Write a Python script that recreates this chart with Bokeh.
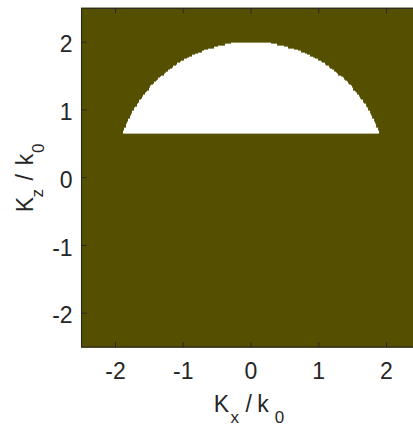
import numpy as np
from bokeh.plotting import figure
from bokeh.models import Range1d, LinearColorMapper
from bokeh.core.properties import value
from bokeh.embed import file_html
from bokeh.resources import INLINE

# Wave-vector plane sampled on a regular grid (units of k0)
grid_step = 0.02
kx_min, kx_max = -2.5, 2.5
kz_min, kz_max = -2.5, 2.5
radius = 2.0        # |K| / k0 limit of the allowed region
kz_cut = 0.65       # lower Kz / k0 bound of the allowed region

x_ticks = [-2, -1, 0, 1, 2]
y_ticks = [-2, -1, 0, 1, 2]
x_tick_labels = ["-2", "-1", "0", "1", "2"]
y_tick_labels = ["-2", "-1", "0", "1", "2"]

olive = "#545000"
ink = "#262626"
font = "Liberation Sans"
big_px, sub_px = 23, 17

kx = np.arange(kx_min, kx_max + grid_step / 2, grid_step)
kz = np.arange(kz_min, kz_max + grid_step / 2, grid_step)
KX, KZ = np.meshgrid(kx, kz)
allowed = ((KX ** 2 + KZ ** 2 <= radius ** 2) & (KZ >= kz_cut)).astype(float)

# Canvas geometry: the plot frame spans the whole page and the axes are
# drawn as glyphs, so the page pixel <-> data mapping is fixed here.
W, H = 413, 426
x0_px, y0_px = 250.5, 177.2     # page pixel of the data origin
scale = 67.75                   # pixels per unit of k0


def X(px):
    return (px - x0_px) / scale


def Y(py):
    return (y0_px - py) / scale


def L(n_px):
    return n_px / scale


p = figure(width=W, height=H, x_range=Range1d(X(0), X(W)),
           y_range=Range1d(Y(H), Y(0)),
           output_backend="svg", toolbar_location=None,
           min_border=0, x_axis_location=None, y_axis_location=None)
p.outline_line_color = None
p.grid.visible = False
p.background_fill_color = "white"
p.border_fill_color = "white"

mapper = LinearColorMapper(palette=[olive, "#ffffff"], low=0, high=1)
p.image(image=[allowed], x=kx_min - grid_step / 2, y=kz_min - grid_step / 2,
        dw=kx_max - kx_min + grid_step, dh=kz_max - kz_min + grid_step,
        color_mapper=mapper)

# Axes box: left, bottom and top edges
p.segment(x0=[kx_min, kx_min, kx_min], y0=[kz_min, kz_min, kz_max],
          x1=[kx_min, kx_max, kx_max], y1=[kz_max, kz_min, kz_max],
          line_color=ink, line_width=1)

tick_len = L(5)
xt = np.array(x_ticks, dtype=float)
yt = np.array(y_ticks, dtype=float)
# inward ticks on bottom, top and left edges
p.segment(x0=xt, y0=np.full_like(xt, kz_min), x1=xt,
          y1=np.full_like(xt, kz_min + tick_len), line_color=ink)
p.segment(x0=xt, y0=np.full_like(xt, kz_max), x1=xt,
          y1=np.full_like(xt, kz_max - tick_len), line_color=ink)
p.segment(x0=np.full_like(yt, kx_min), y0=yt, x1=np.full_like(yt, kx_min + tick_len),
          y1=yt, line_color=ink)

# tick labels, anchored at their vertical middle
p.text(x=xt, y=np.full_like(xt, kz_min - L(23.4)), text=x_tick_labels,
       text_font=value(font), text_font_size=f"{big_px}px", text_color=ink,
       text_align="center", text_baseline="middle")
p.text(x=np.full_like(yt, kx_min - L(9)), y=yt - L(1.6), text=y_tick_labels,
       text_font=value(font), text_font_size=f"{big_px}px", text_color=ink,
       text_align="right", text_baseline="middle")


def piece(text, px, py, size, angle=0.0):
    """Place a title fragment whose baseline passes through (px, py)."""
    shift = 0.35 * size
    if angle:
        px -= shift
    else:
        py -= shift
    p.text(x=[X(px)], y=[Y(py)], text=[text], angle=angle,
           text_font=value(font), text_font_size=f"{size}px", text_color=ink,
           text_align="left", text_baseline="middle")


# K_x / k_0
piece("K", 213.3, 411.7, big_px)
piece("x", 230, 422.7, sub_px)
piece("/", 245, 411.7, big_px)
piece("k", 256.8, 411.7, big_px)
piece("0", 274.3, 422.7, sub_px)

# K_z / k_0, reading upward
up = np.pi / 2
piece("K", 32.3, 211.7, big_px, up)
piece("z", 43.3, 197, sub_px, up)
piece("/", 32.3, 180, big_px, up)
piece("k", 32.3, 164.8, big_px, up)
piece("0", 43.3, 152.4, sub_px, up)

open("out.html", "w").write(file_html(p, INLINE))
